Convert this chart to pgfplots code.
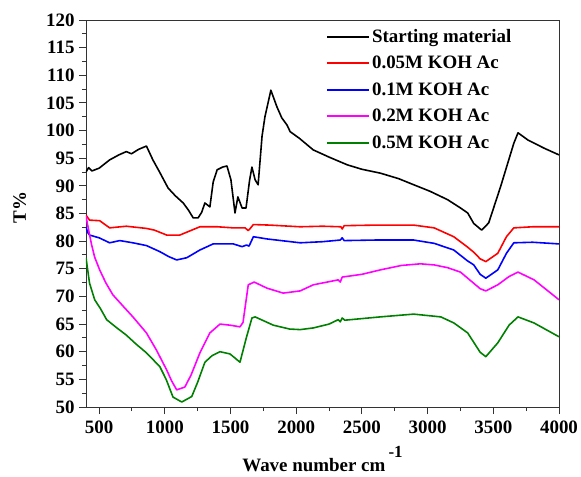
\documentclass[border=0pt]{standalone}
\usepackage{pgfplots}
\pgfplotsset{compat=1.18}
\usepackage{fontspec}
\setmainfont{Liberation Serif}
\definecolor{cblack}{RGB}{0,0,0}
\definecolor{cred}{RGB}{255,0,0}
\definecolor{cblue}{RGB}{0,0,255}
\definecolor{cmag}{RGB}{255,0,255}
\definecolor{cgreen}{RGB}{0,128,0}

\begin{document}
\begin{tikzpicture}
\begin{axis}[
    scale only axis,
    width=473bp, height=387bp,
    xmin=400, xmax=4000,
    ymin=50, ymax=120,
    xtick={500,1000,...,4000},
    ytick={50,55,...,120},
    minor x tick num=1,
    minor y tick num=1,
    tick align=outside,
    xtick pos=bottom, ytick pos=left,
    major tick length=7bp, minor tick length=4bp,
    axis line style={black!80, line width=1pt},
    tick style={black!80, line width=1pt},
    ticklabel style={font=\fontsize{19}{22}\selectfont\bfseries},
    yticklabel style={xshift=-1bp},
    xticklabel style={yshift=-3bp},
    /pgf/number format/assume math mode=true,
    /pgf/number format/1000 sep={},
    xlabel={\fontsize{19}{22}\selectfont\bfseries Wave number cm\,\raisebox{14bp}{\fontsize{17}{17}\selectfont -1}},
    ylabel={\fontsize{19}{22}\selectfont\bfseries T\%},
    xlabel style={at={(axis description cs:0.5,-0.166)}, anchor=base},
    ylabel style={at={(axis description cs:-0.14,0.515)}, anchor=center},
    legend style={at={(axis description cs:0.508,0.987)}, anchor=north west,
        draw=none, fill=none, inner sep=0pt,
        font=\fontsize{19}{22}\selectfont\bfseries, row sep=3.5bp,
        nodes={text height=15bp, text depth=4bp, inner sep=2bp}},
    legend image code/.code={\draw[#1] (0bp,0bp) -- (42bp,0bp);},
    legend cell align=left,
    every axis plot/.append style={line width=1.6pt, line join=round},
]
% Starting material
\addplot[cblack] coordinates {
(400,92.5) (420,93.3) (445,92.7) (500,93.2) (580,94.7) (650,95.6) (707,96.2)
(746,95.8) (800,96.6) (860,97.2) (909,94.7) (960,92.5) (1025,89.6) (1080,88.2)
(1140,86.9) (1180,85.6) (1216,84.2) (1253,84.2) (1280,85.2) (1305,86.9)
(1343,86.2) (1368,90.7) (1398,92.9) (1440,93.4) (1473,93.6) (1503,91.1)
(1534,85.1) (1556,88.0) (1588,86.0) (1618,86.0) (1645,91.0) (1663,93.4)
(1687,91.1) (1710,90.2) (1740,99.0) (1762,102.5) (1807,107.3) (1853,104.3)
(1890,102.3) (1930,101.0) (1954,99.8) (2024,98.6) (2130,96.5) (2250,95.2)
(2389,93.8) (2500,93.0) (2640,92.3) (2780,91.3) (2894,90.2) (3020,89.0)
(3152,87.5) (3250,86.0) (3305,85.1) (3351,83.2) (3411,82.0) (3465,83.3)
(3556,89.9) (3656,97.7) (3688,99.6) (3763,98.3) (3888,96.8) (4000,95.6)
};
\addlegendentry{Starting material}
% 0.05M
\addplot[cred] coordinates {
(400,84.7) (427,83.8) (504,83.7) (580,82.4) (707,82.7) (860,82.3) (920,82.0)
(1014,81.1) (1114,81.1) (1267,82.6) (1400,82.6) (1521,82.4) (1611,82.4)
(1635,81.9) (1650,82.3) (1674,83.0) (1800,82.9) (2030,82.6) (2200,82.7)
(2340,82.6) (2350,82.2) (2365,82.8) (2600,82.9) (2894,82.9) (3050,82.4)
(3199,80.8) (3300,79.0) (3351,78.0) (3400,76.8) (3443,76.3) (3534,77.8)
(3600,80.8) (3656,82.4) (3800,82.6) (4000,82.6)
};
\addlegendentry{0.05M KOH Ac}
% 0.1M
\addplot[cblue] coordinates {
(400,82.5) (415,81.5) (427,81.1) (500,80.6) (580,79.7) (657,80.1) (757,79.7)
(860,79.2) (962,78.1) (1030,77.2) (1090,76.6) (1167,77.0) (1267,78.4)
(1368,79.5) (1521,79.5) (1588,79.0) (1622,79.3) (1641,79.1) (1674,80.8)
(1777,80.4) (2030,79.7) (2200,79.9) (2335,80.2) (2350,80.6) (2365,80.1)
(2600,80.2) (2894,80.2) (3050,79.6) (3199,78.4) (3300,76.5) (3351,75.7)
(3400,74.0) (3443,73.3) (3534,74.8) (3600,77.8) (3656,79.7) (3800,79.8)
(4000,79.5)
};
\addlegendentry{0.1M KOH Ac}
% 0.2M
\addplot[cmag] coordinates {
(400,84.5) (420,82.0) (443,79.3) (466,77.1) (504,74.8) (550,72.5) (604,70.3)
(680,68.3) (757,66.3) (860,63.4) (936,60.3) (975,58.5) (1014,56.7) (1050,54.8)
(1090,53.1) (1152,53.6) (1200,55.8) (1267,59.8) (1343,63.4) (1420,65.0)
(1496,64.8) (1572,64.5) (1595,65.3) (1635,72.1) (1680,72.6) (1777,71.5)
(1901,70.6) (2030,71.0) (2130,72.1) (2320,73.0) (2335,72.6) (2350,73.5)
(2500,74.0) (2640,74.8) (2800,75.6) (2945,75.9) (3050,75.7) (3152,75.2)
(3250,74.4) (3305,73.3) (3400,71.4) (3443,71.0) (3534,72.1) (3620,73.6)
(3688,74.4) (3810,73.0) (3900,71.3) (4000,69.4)
};
\addlegendentry{0.2M KOH Ac}
% 0.5M
\addplot[cgreen] coordinates {
(400,77.0) (427,72.4) (466,69.4) (510,67.8) (557,65.8) (630,64.4) (707,63.0)
(780,61.4) (860,59.8) (962,57.3) (1010,55.0) (1062,51.8) (1129,50.9)
(1205,51.9) (1250,54.5) (1305,58.1) (1360,59.3) (1420,60.0) (1496,59.6)
(1572,58.1) (1620,62.5) (1663,66.1) (1687,66.3) (1826,64.8) (1950,64.1)
(2030,64.0) (2130,64.3) (2250,65.0) (2320,65.8) (2335,65.4) (2350,66.1)
(2370,65.7) (2640,66.3) (2894,66.8) (3100,66.3) (3200,65.2) (3305,63.4)
(3400,59.9) (3443,59.1) (3534,61.6) (3620,64.8) (3688,66.3) (3810,65.2)
(4000,62.7)
};
\addlegendentry{0.5M KOH Ac}
\coordinate (o) at (rel axis cs:0,0);
\end{axis}
\pgfresetboundingbox
\path (o) ++(-86bp,-70bp) rectangle ++(581bp,477bp);
\end{tikzpicture}
\end{document}
